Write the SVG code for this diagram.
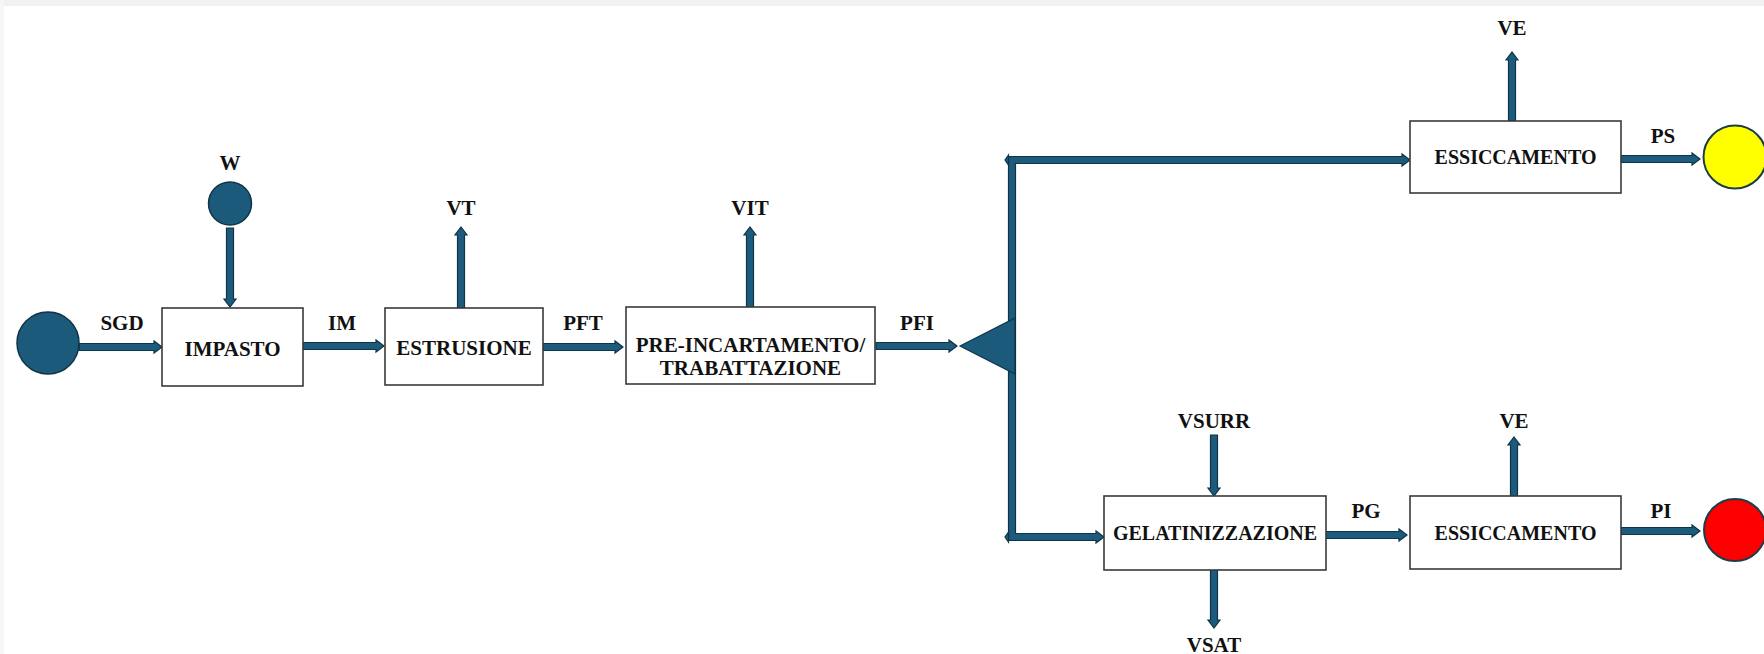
<svg xmlns="http://www.w3.org/2000/svg" width="1764" height="654" viewBox="0 0 1764 654">
<style>
.box{fill:#fff;stroke:#3a3a3a;stroke-width:1.6}
.bt{font-family:"Liberation Serif","Times New Roman",serif;font-weight:bold;font-size:21px;fill:#111;text-anchor:middle}
.bt2{font-family:"Liberation Serif","Times New Roman",serif;font-weight:bold;font-size:20px;fill:#111;text-anchor:middle}
.lb{font-family:"Liberation Serif","Times New Roman",serif;font-weight:bold;font-size:21px;fill:#111;text-anchor:middle}
.arr{fill:#1d5b7c;stroke:#0f3347;stroke-width:1.2;stroke-linejoin:miter}
.src{fill:#1b5a7b;stroke:#0e3546;stroke-width:1.5}
</style>
<rect x="0" y="0" width="1764" height="654" fill="#fff"/>
<rect x="0" y="0" width="1764" height="6" fill="#f1f1f1"/>
<rect x="0" y="0" width="4" height="654" fill="#f6f6f6"/>

<g id="connectors">
  <!-- SGD -->
  <polygon class="arr" points="79,343.5 154,343.5 154,341 162,347 154,353 154,350.5 79,350.5"/>
  <!-- W down -->
  <polygon class="arr" points="226.5,228 226.5,299 224,299 230,307 236,299 233.5,299 233.5,228"/>
  <!-- IM -->
  <polygon class="arr" points="303,342.5 376,342.5 376,340 384,346 376,352 376,349.5 303,349.5"/>
  <!-- VT up -->
  <polygon class="arr" points="457.5,308 457.5,235 455,235 461,227 467,235 464.5,235 464.5,308"/>
  <!-- PFT -->
  <polygon class="arr" points="543,343.5 615,343.5 615,341 623,347 615,353 615,350.5 543,350.5"/>
  <!-- VIT up -->
  <polygon class="arr" points="746.5,307 746.5,235 744,235 750,227 756,235 753.5,235 753.5,307"/>
  <!-- PFI -->
  <polygon class="arr" points="876,342.5 949,342.5 949,340 957,346 949,352 949,349.5 876,349.5"/>
  <!-- branch top -->
  <polygon class="arr" points="1008.5,346 1008.5,156.5 1402,156.5 1402,154 1410,160 1402,166 1402,163.5 1015.5,163.5 1015.5,346"/>
  <polygon class="arr" points="1008.5,155 1005,160 1008.5,165"/>
  <!-- branch bottom -->
  <polygon class="arr" points="1015.5,346 1015.5,533.5 1096,533.5 1096,531 1104,537 1096,543 1096,540.5 1008.5,540.5 1008.5,346"/>
  <polygon class="arr" points="1008.5,532 1005,537 1008.5,542"/>
  <!-- VE top up -->
  <polygon class="arr" points="1508.5,121 1508.5,60 1506,60 1512,52 1518,60 1515.5,60 1515.5,121"/>
  <!-- PS -->
  <polygon class="arr" points="1621,155.5 1692,155.5 1692,153 1700,159 1692,165 1692,162.5 1621,162.5"/>
  <!-- VSURR down -->
  <polygon class="arr" points="1210.5,435 1210.5,488 1208,488 1214,496 1220,488 1217.5,488 1217.5,435"/>
  <!-- VSAT down -->
  <polygon class="arr" points="1210.5,570 1210.5,620 1208,620 1214,628 1220,620 1217.5,620 1217.5,570"/>
  <!-- PG -->
  <polygon class="arr" points="1326,531.5 1399,531.5 1399,529 1407,535 1399,541 1399,538.5 1326,538.5"/>
  <!-- VE bottom up -->
  <polygon class="arr" points="1510.5,496 1510.5,445 1508,445 1514,437 1520,445 1517.5,445 1517.5,496"/>
  <!-- PI -->
  <polygon class="arr" points="1621,527.5 1692,527.5 1692,525 1700,531 1692,537 1692,534.5 1621,534.5"/>
</g>

<g id="labels">
  <text class="lb" x="122" y="330">SGD</text>
  <text class="lb" x="230" y="170">W</text>
  <text class="lb" x="342" y="330">IM</text>
  <text class="lb" x="461" y="215">VT</text>
  <text class="lb" x="583" y="330">PFT</text>
  <text class="lb" x="750" y="215">VIT</text>
  <text class="lb" x="917" y="330">PFI</text>
  <text class="lb" x="1512" y="35">VE</text>
  <text class="lb" x="1663" y="143">PS</text>
  <text class="lb" x="1214" y="428">VSURR</text>
  <text class="lb" x="1514" y="428">VE</text>
  <text class="lb" x="1366" y="518">PG</text>
  <text class="lb" x="1661" y="518">PI</text>
  <text class="lb" x="1214" y="652">VSAT</text>
</g>

<g id="source-sgd"><circle class="src" cx="48" cy="343" r="31"/></g>
<g id="source-w"><circle class="src" cx="230" cy="203.5" r="21.5"/></g>

<g id="impasto">
  <rect class="box" x="162" y="308" width="141" height="78"/>
  <text class="bt" x="232.5" y="356">IMPASTO</text>
</g>
<g id="estrusione">
  <rect class="box" x="385" y="308" width="158" height="77"/>
  <text class="bt" x="464" y="355">ESTRUSIONE</text>
</g>
<g id="pre-incartamento">
  <rect class="box" x="626" y="307" width="249" height="77"/>
  <text class="bt" x="750.5" y="352">PRE-INCARTAMENTO/</text>
  <text class="bt" x="750.5" y="375">TRABATTAZIONE</text>
</g>
<g id="splitter">
  <polygon points="960,346 1015,318 1015,374" fill="#1b5a7b" stroke="#0e3546" stroke-width="1.2"/>
</g>
<g id="essiccamento-top">
  <rect class="box" x="1410" y="121" width="211" height="72"/>
  <text class="bt2" x="1515.5" y="164">ESSICCAMENTO</text>
</g>
<g id="gelatinizzazione">
  <rect class="box" x="1104" y="496" width="222" height="74"/>
  <text class="bt2" x="1215" y="540">GELATINIZZAZIONE</text>
</g>
<g id="essiccamento-bottom">
  <rect class="box" x="1410" y="496" width="211" height="73"/>
  <text class="bt2" x="1515.5" y="540">ESSICCAMENTO</text>
</g>
<g id="product-ps"><circle cx="1735" cy="157" r="31.5" fill="#ffff00" stroke="#1c3b4b" stroke-width="2"/></g>
<g id="product-pi"><circle cx="1735" cy="530" r="31" fill="#ff0000" stroke="#1c3b4b" stroke-width="2"/></g>
</svg>
